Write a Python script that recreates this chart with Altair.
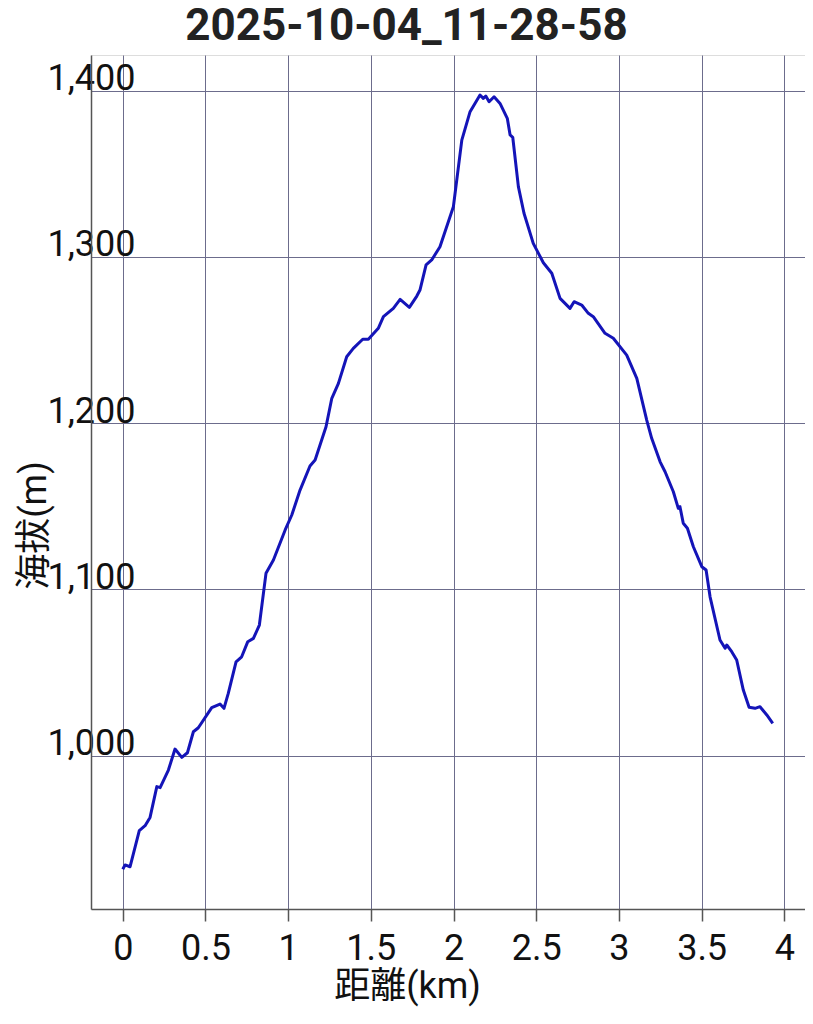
import altair as alt
import pandas as pd

distance_km = [
    0.000, 0.014, 0.044, 0.100, 0.135, 0.165, 0.206, 0.226, 0.276, 0.316,
    0.357, 0.391, 0.427, 0.457, 0.538, 0.588, 0.612, 0.638, 0.685, 0.719,
    0.756, 0.790, 0.826, 0.866, 0.911, 0.982, 1.022, 1.072, 1.132, 1.163,
    1.229, 1.264, 1.304, 1.354, 1.394, 1.451, 1.485, 1.545, 1.576, 1.636,
    1.677, 1.733, 1.778, 1.797, 1.834, 1.868, 1.918, 1.999, 2.050, 2.100,
    2.160, 2.180, 2.195, 2.215, 2.245, 2.281, 2.325, 2.342, 2.358, 2.392,
    2.426, 2.482, 2.543, 2.594, 2.644, 2.704, 2.729, 2.775, 2.815, 2.845,
    2.916, 2.966, 3.047, 3.108, 3.168, 3.198, 3.249, 3.279, 3.329, 3.359,
    3.369, 3.389, 3.414, 3.450, 3.501, 3.527, 3.551, 3.611, 3.642, 3.652,
    3.682, 3.712, 3.752, 3.787, 3.823, 3.853, 3.894, 3.930,
]
elevation_m = [
    931.7, 934.3, 933.2, 954.9, 957.9, 962.9, 981.4, 980.8, 991.4, 1004.0,
    999.0, 1001.8, 1014.4, 1016.8, 1028.9, 1031.1, 1028.5, 1037.5, 1056.5, 1059.5,
    1068.6, 1070.6, 1078.6, 1109.7, 1117.7, 1135.8, 1144.8, 1159.8, 1174.3, 1177.9,
    1197.9, 1215.0, 1224.0, 1240.0, 1245.0, 1250.5, 1250.5, 1257.1, 1264.1, 1269.1,
    1274.5, 1269.7, 1276.5, 1280.1, 1295.2, 1298.2, 1306.2, 1330.2, 1370.3, 1387.4,
    1397.4, 1395.4, 1396.8, 1393.4, 1396.4, 1392.4, 1383.4, 1373.4, 1372.0, 1342.3,
    1326.3, 1308.2, 1296.5, 1290.2, 1275.1, 1269.1, 1273.1, 1271.1, 1266.1, 1264.1,
    1254.1, 1251.1, 1241.0, 1227.0, 1201.9, 1190.9, 1176.8, 1170.8, 1158.8, 1148.8,
    1149.8, 1139.8, 1136.8, 1125.7, 1113.7, 1111.7, 1095.6, 1069.6, 1064.6, 1066.6,
    1062.6, 1057.6, 1039.5, 1029.1, 1028.5, 1029.5, 1024.5, 1019.5,
]
x_ticks = [0, 0.5, 1, 1.5, 2, 2.5, 3, 3.5, 4]
y_ticks = [1000, 1100, 1200, 1300, 1400]
chart_title = ["2025-10-04_11-28-58"]

df = pd.DataFrame({"d": distance_km, "e": elevation_m})
title_df = pd.DataFrame({"t": chart_title})

FONT = "Roboto, 'Noto Sans CJK JP', sans-serif"

line = (
    alt.Chart(df)
    .mark_line(color="#1414b8", strokeWidth=3, clip=True, strokeJoin="round")
    .encode(
        x=alt.X(
            "d:Q",
            scale=alt.Scale(domain=[-0.192, 4.125], nice=False, zero=False),
            axis=alt.Axis(
                title="距離(km)",
                values=x_ticks,
                format="~g",
                labelFontSize=36,
                labelFont=FONT,
                labelColor="#111111",
                labelBaseline="alphabetic",
                labelPadding=38,
                labelFlush=False,
                labelOverlap=False,
                tickSize=12,
                tickColor="#555555",
                tickWidth=1.5,
                domainColor="#555555",
                domainWidth=1.5,
                gridColor="#6c6c8c",
                gridWidth=1,
                titleFontSize=36,
                titleFont=FONT,
                titleFontWeight="normal",
                titleColor="#111111",
                titleX=316,
                titleY=88,
                titleAlign="center",
                titleBaseline="alphabetic",
            ),
        ),
        y=alt.Y(
            "e:Q",
            scale=alt.Scale(domain=[907.8, 1421.5], nice=False, zero=False),
            axis=alt.Axis(
                title="海拔(m)",
                values=y_ticks,
                format=",d",
                labelFontSize=36,
                labelFont=FONT,
                labelColor="#111111",
                labelAlign="left",
                labelBaseline="alphabetic",
                labelPadding=44,
                labelOffset=-1,
                labelFlush=False,
                labelOverlap=False,
                ticks=False,
                tickSize=0,
                domainColor="#555555",
                domainWidth=1.5,
                gridColor="#6c6c8c",
                gridWidth=1,
                titleFontSize=36,
                titleFont=FONT,
                titleFontWeight="normal",
                titleColor="#111111",
                titleAngle=270,
                titleX=-46,
                titleY=470,
                titleAlign="center",
                titleBaseline="alphabetic",
            ),
        ),
    )
)

title_text = (
    alt.Chart(title_df)
    .mark_text(
        font="Roboto",
        fontSize=44,
        fontWeight="bold",
        color="#222222",
        align="center",
        baseline="alphabetic",
    )
    .encode(x=alt.value(315.5), y=alt.value(-15), text="t:N")
)

chart = (
    alt.layer(line, title_text)
    .properties(
        width=714,
        height=854,
        autosize=alt.AutoSizeParams(type="none"),
        padding={"left": 83, "top": 47, "right": 0, "bottom": 100},
    )
    .configure_view(fill="#e8e8e8", stroke=None)
    .configure(background="white")
)

chart.save("out.html", embed_options={"renderer": "svg", "actions": False})
